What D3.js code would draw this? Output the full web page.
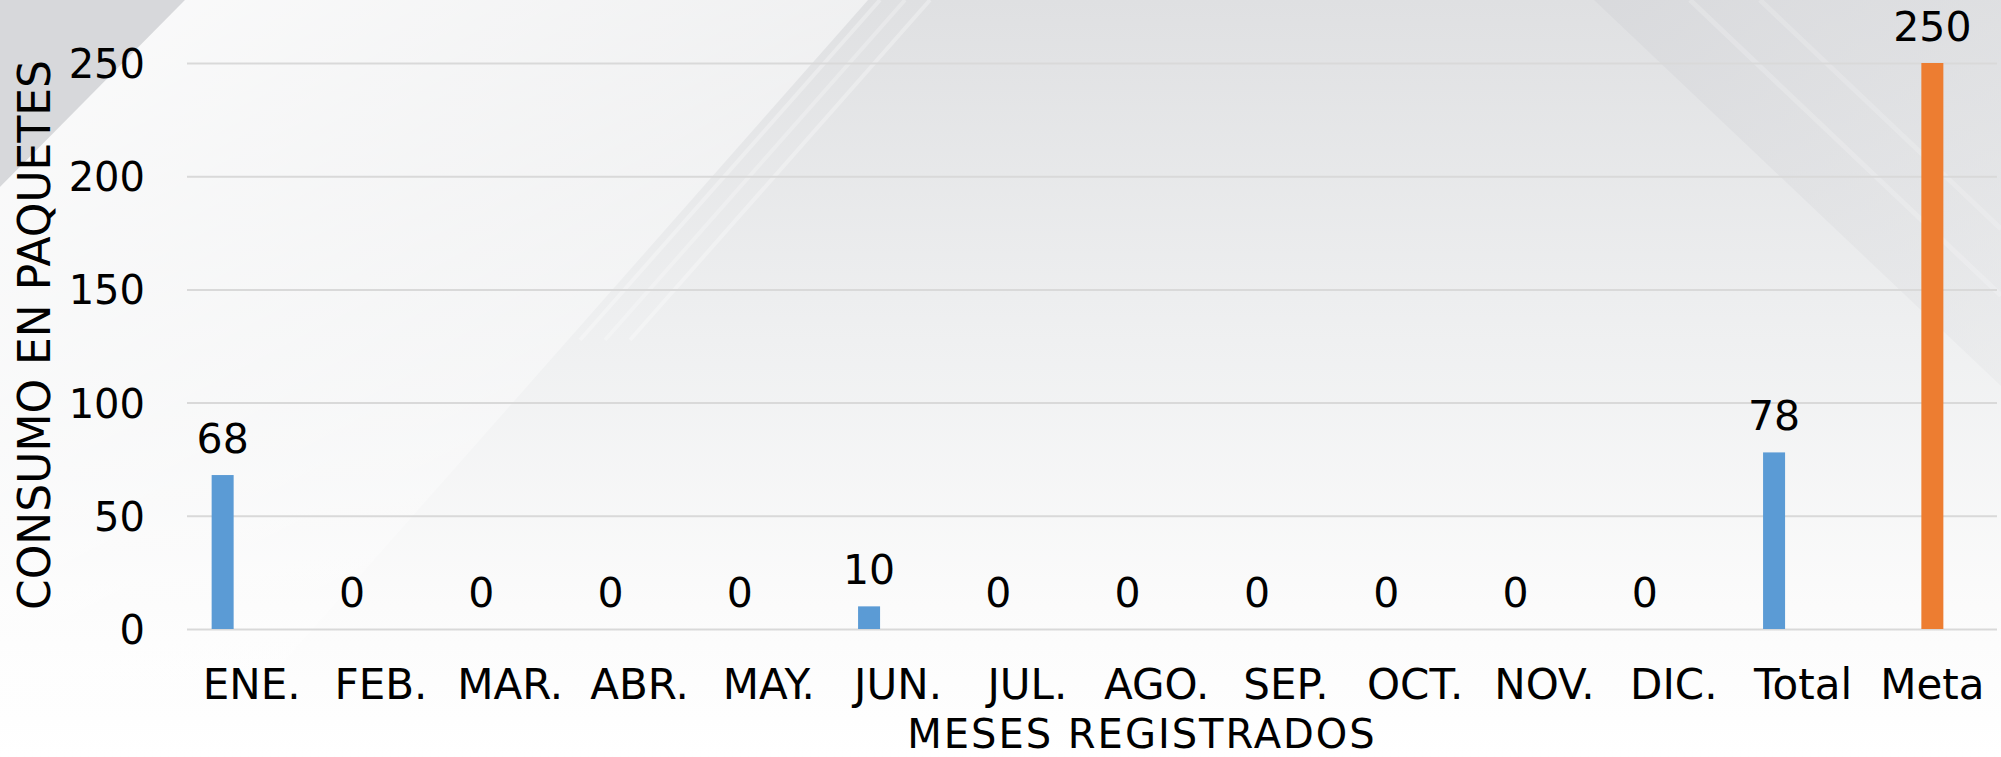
<!DOCTYPE html>
<html>
<head>
<meta charset="utf-8">
<script src="https://cdn.jsdelivr.net/npm/d3@7"></script>
<style>
  body { margin: 0; background: #fff; }
  svg { display: block; font-family: "DejaVu Sans", sans-serif; }
</style>
</head>
<body>
<div id="chart"></div>
<script>
// Datos del grafico
var categories = ["ENE.", "FEB.", "MAR.", "ABR.", "MAY.", "JUN.", "JUL.", "AGO.", "SEP.", "OCT.", "NOV.", "DIC.", "Total", "Meta"];
var consumo = [68, 0, 0, 0, 0, 10, 0, 0, 0, 0, 0, 0, 78, null];
var meta = [null, null, null, null, null, null, null, null, null, null, null, null, null, 250];
var yTicks = [0, 50, 100, 150, 200, 250];
var seriesNames = ["Consumo", "Meta"];
var seriesColors = ["#5b9bd5", "#ed7d31"];

var width = 2001;
var height = 757;

var svg = d3.select('#chart')
    .append('svg')
    .attr('width', width)
    .attr('height', height);

// Fondo: degradado gris claro con franjas diagonales
var defs = svg.append('defs');

var bg = defs.append('linearGradient')
    .attr('id', 'bg')
    .attr('x1', 0).attr('y1', 0).attr('x2', 0).attr('y2', 1);
bg.append('stop').attr('offset', '0%').attr('stop-color', '#dfe0e2');
bg.append('stop').attr('offset', '45%').attr('stop-color', '#eff0f1');
bg.append('stop').attr('offset', '80%').attr('stop-color', '#fbfbfb');
bg.append('stop').attr('offset', '100%').attr('stop-color', '#ffffff');

var shine = defs.append('linearGradient')
    .attr('id', 'shine')
    .attr('x1', 0).attr('y1', 0).attr('x2', 0.6).attr('y2', 1);
shine.append('stop').attr('offset', '0%').attr('stop-color', '#ffffff').attr('stop-opacity', 0.9);
shine.append('stop').attr('offset', '60%').attr('stop-color', '#ffffff').attr('stop-opacity', 0.4);
shine.append('stop').attr('offset', '100%').attr('stop-color', '#ffffff').attr('stop-opacity', 0.1);

var shade = defs.append('linearGradient')
    .attr('id', 'shade')
    .attr('x1', 0).attr('y1', 0).attr('x2', 1).attr('y2', 1);
shade.append('stop').attr('offset', '0%').attr('stop-color', '#d8d9dc').attr('stop-opacity', 0.9);
shade.append('stop').attr('offset', '100%').attr('stop-color', '#e4e5e7').attr('stop-opacity', 0.4);

svg.append('rect')
    .attr('width', width)
    .attr('height', height)
    .attr('fill', 'url(#bg)');

// esquina superior izquierda gris
svg.append('path')
    .attr('d', 'M0,0 L185,0 L0,187 Z')
    .attr('fill', '#d7d8db');

// banda blanca diagonal
svg.append('path')
    .attr('d', 'M185,0 L868,0 L200,757 L0,757 L0,187 Z')
    .attr('fill', 'url(#shine)');

// franjas finas
[[880, 0.3], [905, 0.25], [930, 0.3]].forEach(function (s) {
    svg.append('line')
        .attr('x1', s[0]).attr('y1', 0)
        .attr('x2', s[0] - 300).attr('y2', 340)
        .attr('stroke', '#ffffff')
        .attr('stroke-opacity', s[1])
        .attr('stroke-width', 4);
});

// zona gris de la derecha
svg.append('path')
    .attr('d', 'M1594,0 L2001,0 L2001,386 Z')
    .attr('fill', 'url(#shade)');
[[1690, 0.2], [1760, 0.18]].forEach(function (s) {
    svg.append('line')
        .attr('x1', s[0]).attr('y1', 0)
        .attr('x2', 2001).attr('y2', (2001 - s[0]) * 0.95)
        .attr('stroke', '#ffffff')
        .attr('stroke-opacity', s[1])
        .attr('stroke-width', 5);
});

// Escalas
var xScale = d3.scaleBand()
    .domain(categories)
    .range([187, 1997]);

var seriesOffset = d3.scalePoint()
    .domain(seriesNames)
    .range([-29, 0]);

var yScale = d3.scaleLinear()
    .domain([0, 250])
    .range([629, 63]);

var barWidth = 22;

// Eje Y con lineas de cuadricula
var yAxis = d3.axisLeft(yScale)
    .tickValues(yTicks)
    .tickSize(-(1997 - 187))
    .tickPadding(42)
    .tickFormat(d3.format('d'));

var gy = svg.append('g')
    .attr('transform', 'translate(187,0)')
    .call(yAxis);
gy.select('.domain').remove();
gy.selectAll('.tick line')
    .attr('stroke', '#d9d9d9')
    .attr('stroke-width', 2);
gy.selectAll('.tick text')
    .attr('font-size', 40)
    .attr('font-family', '"DejaVu Sans", sans-serif')
    .attr('fill', '#000')
    .attr('dy', '0.36em');

// Eje X
var xAxis = d3.axisBottom(xScale)
    .tickSize(0)
    .tickPadding(40);

var gx = svg.append('g')
    .attr('transform', 'translate(0,629)')
    .call(xAxis);
gx.select('.domain').remove();
gx.selectAll('.tick text')
    .attr('font-size', 42)
    .attr('font-family', '"DejaVu Sans", sans-serif')
    .attr('fill', '#000');

// Barras
var allSeries = [consumo, meta];

allSeries.forEach(function (values, s) {
    var points = categories.map(function (c, i) {
        return {cat: c, value: values[i]};
    }).filter(function (d) { return d.value !== null; });

    var g = svg.append('g');

    g.selectAll('rect')
        .data(points)
        .enter()
        .append('rect')
            .attr('fill', seriesColors[s])
            .attr('width', barWidth)
            .attr('x', function (d) {
                return xScale(d.cat) + xScale.bandwidth() / 2 + seriesOffset(seriesNames[s]) - barWidth / 2;
            })
            .attr('y', function (d) { return yScale(d.value); })
            .attr('height', function (d) { return yScale(0) - yScale(d.value); });

    // Etiquetas de datos
    g.selectAll('text')
        .data(points)
        .enter()
        .append('text')
            .attr('x', function (d) {
                return xScale(d.cat) + xScale.bandwidth() / 2 + seriesOffset(seriesNames[s]);
            })
            .attr('y', function (d) { return yScale(d.value) - 22; })
            .attr('text-anchor', 'middle')
            .attr('font-size', 41)
            .attr('fill', '#000')
            .text(function (d) { return d.value; });
});

// Titulos de ejes
svg.append('text')
    .attr('x', 1142)
    .attr('y', 748)
    .attr('text-anchor', 'middle')
    .attr('font-size', 40)
    .attr('letter-spacing', 2)
    .attr('fill', '#000')
    .text('MESES REGISTRADOS');

svg.append('text')
    .attr('transform', 'translate(50,335) rotate(-90)')
    .attr('text-anchor', 'middle')
    .attr('font-size', 44)
    .attr('fill', '#000')
    .text('CONSUMO EN PAQUETES');
</script>
</body>
</html>
